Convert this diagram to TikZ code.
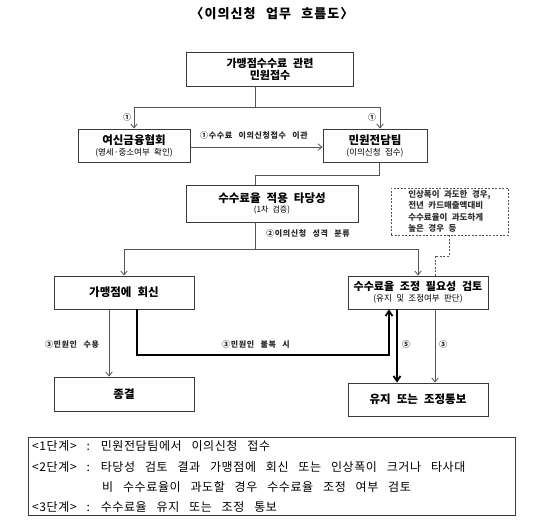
\documentclass[tikz,border=0pt]{standalone}
\usepackage{fontspec}
\setmainfont{Noto Sans CJK KR}[WordSpace=2.3]
\newfontfamily\titlefont{Noto Sans CJK KR}[WordSpace=2.2,LetterSpace=8]
\newfontfamily\labfont{Noto Sans CJK KR}[WordSpace=2.6,LetterSpace=8]
\newfontfamily\btmfont{Noto Sans CJK KR}[WordSpace=3.0,LetterSpace=5]
\usetikzlibrary{arrows.meta,calc}
\definecolor{linec}{HTML}{555555}
\definecolor{boxc}{HTML}{3A3A3A}
\begin{document}
\begin{tikzpicture}[x=1pt,y=-1pt,
  box/.style={draw=boxc, line width=0.9pt, rectangle, inner sep=0pt, align=center, fill=white,
    font=\bfseries\fontsize{11}{12}\selectfont},
  conn/.style={draw=linec, line width=0.8pt},
  arr/.style={conn, -{Straight Barb[length=4pt,width=6.5pt]}},
  thk/.style={draw=black, line width=1.8pt, -{Straight Barb[length=5pt,width=7pt]}},
  lab/.style={inner sep=0pt, text=black!85, font=\labfont\bfseries\fontsize{8}{9}\selectfont},
  btm/.style={inner sep=0pt, anchor=west, font=\btmfont\fontsize{12}{13}\selectfont}
]
\useasboundingbox (0,0) rectangle (540,519);
\fill[white] (0,0) rectangle (540,519);

% title
\node[inner sep=0pt, font=\titlefont\bfseries\fontsize{13}{15}\selectfont] (title) at (272,14) {〈이의신청 업무 흐름도〉};

% boxes
\node[box, minimum width=167pt, minimum height=34pt] (n1) at (270,69) {가맹점수수료 관련\\민원접수};
\node[box, minimum width=112pt, minimum height=33pt] (n2) at (134,145.5)
  {{\fontsize{11.5}{13}\selectfont 여신금융협회}\\[-1pt]{\mdseries\fontsize{8.5}{10}\selectfont (영세·중소여부 확인)}};
\node[box, minimum width=104pt, minimum height=33pt] (n3) at (375,145.5)
  {{\fontsize{11.5}{13}\selectfont 민원전담팀}\\[-1pt]{\mdseries\fontsize{8.5}{10}\selectfont (이의신청 접수)}};
\node[box, minimum width=172pt, minimum height=37pt] (n4) at (272,203.5)
  {{\fontsize{11.5}{13}\selectfont 수수료율 적용 타당성}\\[-2pt]{\mdseries\fontsize{8}{9}\selectfont (1차 검증)}};
\node[box, draw=linec, dash pattern=on 2pt off 1.5pt, minimum width=117pt, minimum height=47pt, align=left,
  font=\bfseries\fontsize{8.5}{11.5}\selectfont, text=black!80] (n5) at (449.5,211.5)
  {인상폭이 과도한 경우,\\전년 카드매출액대비\\수수료율이 과도하게\\높은 경우 등};
\node[box, minimum width=140pt, minimum height=33pt, font=\bfseries\fontsize{11.5}{13}\selectfont] (n6) at (124,292.5) {가맹점에 회신};
\node[box, minimum width=140pt, minimum height=33pt] (n7) at (418,292.5)
  {수수료율 조정 필요성 검토\\[-1pt]{\mdseries\fontsize{8.5}{10}\selectfont (유지 및 조정여부 판단)}};
\node[box, minimum width=140pt, minimum height=34pt, font=\bfseries\fontsize{11.5}{13}\selectfont] (n8) at (124,394) {종결};
\node[box, minimum width=140pt, minimum height=33pt, font=\bfseries\fontsize{11.5}{13}\selectfont] (n9) at (418,399.5) {유지 또는 조정통보};

% connectors
\coordinate (j1) at (255,107);
\draw[conn] (n1.south -| j1) -- (j1);
\draw[arr] (j1) -| (n2.north);
\draw[arr] (j1) -| ([xshift=5pt]n3.north);
\node[lab] (l1a) at (127,117) {①};
\node[lab] (l1b) at (372,117) {①};
\draw[arr] ([yshift=-1.5pt]n2.east) -- ([yshift=-1.5pt]n3.west);
\node[lab] (l1c) at (254,135) {①수수료 이의신청접수 이관};

\coordinate (j2) at (379,175);
\coordinate (j3) at (255,175);
\draw[conn] (n3.south -| j2) -- (j2) -- (j3) -- (j3 |- n4.north);

\coordinate (j4) at (255,249);
\draw[conn] (n4.south -| j4) -- (j4);
\draw[arr] (j4) -| (n6.north);
\draw[arr] (j4) -| (n7.north);
\node[lab] (l2) at (308,233) {②이의신청 성격 분류};

\coordinate (d1) at (449,256);
\coordinate (d2) at (435,256);
\draw[conn, dash pattern=on 2pt off 1.5pt] (n5.south -| d1) -- (d1) -- (d2) -- (d2 |- n7.north);

\coordinate (a1) at (109,0);
\draw[arr] (n6.south -| a1) -- (n8.north -| a1);
\node[lab] (l3a) at (72,344) {③민원인 수용};

\coordinate (t1) at (137,355);
\coordinate (t2) at (389,355);
\draw[thk] (n6.south -| t1) -- (t1) -- (t2) -- (t2 |- n7.south);
\node[lab] (l3b) at (256,344) {③민원인 불복 시};

\coordinate (t3) at (397,0);
\draw[thk] (n7.south -| t3) -- (n9.north -| t3);
\node[lab] (l5) at (406,344) {⑤};
\coordinate (t4) at (435,0);
\draw[arr] (n7.south -| t4) -- (n9.north -| t4);
\node[lab] (l3c) at (443,344) {③};

% bottom summary
\node[draw=boxc, line width=0.9pt, minimum width=487pt, minimum height=78pt, inner sep=0pt] (bb) at (271.5,476) {};
\node[btm] (s1) at (32,446) {<1단계> : 민원전담팀에서 이의신청 접수};
\node[btm] (s2) at (32,467) {<2단계> : 타당성 검토 결과 가맹점에 회신 또는 인상폭이 크거나 타사대};
\node[btm] (s3) at (102,487) {비 수수료율이 과도할 경우 수수료율 조정 여부 검토};
\node[btm] (s4) at (32,507) {<3단계> : 수수료율 유지 또는 조정 통보};
\end{tikzpicture}
\end{document}
